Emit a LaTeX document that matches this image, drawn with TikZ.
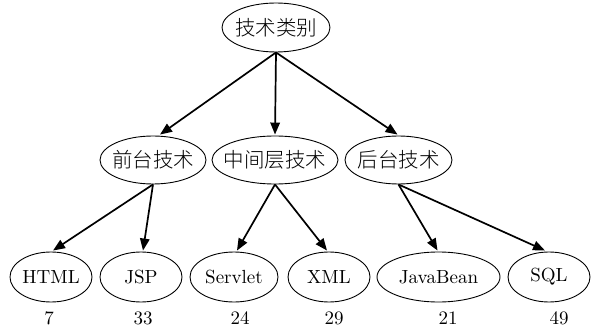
\documentclass[tikz,border=0pt]{standalone}
\usepackage{fontspec}
\newfontfamily\cjk{Noto Sans CJK SC Light}
\newfontfamily\lmten{lmroman10-regular.otf}
\newcommand\zbox[1]{\makebox[0pt]{#1}}
\usetikzlibrary{shapes.geometric,arrows.meta}
\begin{document}
\begin{tikzpicture}[x=1pt,y=-1pt,
  every node/.style={font=\lmten\fontsize{19}{22}\selectfont},
  nd/.style={ellipse,draw,line width=0.9pt,inner sep=0pt,minimum height=49pt},
  cn/.style={nd,font=\cjk\fontsize{20.5}{24}\selectfont},
  num/.style={inner sep=0pt},
  arr/.style={line width=1.7pt,-{Triangle[length=12pt,width=9.5pt]}}]
\useasboundingbox (0,0) rectangle (601,328);
\node[cn,minimum width=108pt] (root) at (276,27.5) {\zbox{技术类别}};
\node[cn,minimum width=106pt,minimum height=48pt] (qt) at (153,160) {\zbox{前台技术}};
\node[cn,minimum width=126pt,minimum height=48pt] (zj) at (275,160) {\zbox{中间层技术}};
\node[cn,minimum width=107pt,minimum height=48pt] (ht) at (398.5,160) {\zbox{后台技术}};
\node[nd,minimum width=82pt,minimum height=50pt] (html) at (51,277) {\zbox{HTML}};
\node[nd,minimum width=82pt,minimum height=50pt] (jsp) at (141,277) {\zbox{JSP}};
\node[nd,minimum width=88pt,minimum height=50pt] (servlet) at (234,277) {\zbox{Servlet}};
\node[nd,minimum width=82pt,minimum height=50pt] (xml) at (329,277) {\zbox{XML}};
\node[nd,minimum width=123pt,minimum height=50pt] (jb) at (438.5,277) {\zbox{JavaBean}};
\node[nd,minimum width=82pt,minimum height=50pt] (sql) at (549,277) {\zbox{SQL}};
\node[num] (n1) at (49,318) {7};
\node[num] (n2) at (143,318) {33};
\node[num] (n3) at (240,318) {24};
\node[num] (n4) at (334,318) {29};
\node[num] (n5) at (448,318) {21};
\node[num] (n6) at (559,318) {49};
\draw[arr] (root.south) -- ([xshift=7pt,yshift=1pt]qt.north);
\draw[arr] (root.south) -- ([yshift=1pt]zj.north);
\draw[arr] (root.south) -- ([xshift=-1pt,yshift=1pt]ht.north);
\draw[arr] (qt.south) -- ([xshift=2pt,yshift=1pt]html.north);
\draw[arr] (qt.south) -- ([xshift=2pt,yshift=1pt]jsp.north);
\draw[arr] (zj.south) -- ([xshift=3pt,yshift=1pt]servlet.north);
\draw[arr] (zj.south) -- ([xshift=-2pt,yshift=1pt]xml.north);
\draw[arr] (ht.south) -- ([xshift=-1pt,yshift=1pt]jb.north);
\draw[arr] (ht.south) -- ([xshift=-4pt,yshift=1pt]sql.north);
\end{tikzpicture}
\end{document}
